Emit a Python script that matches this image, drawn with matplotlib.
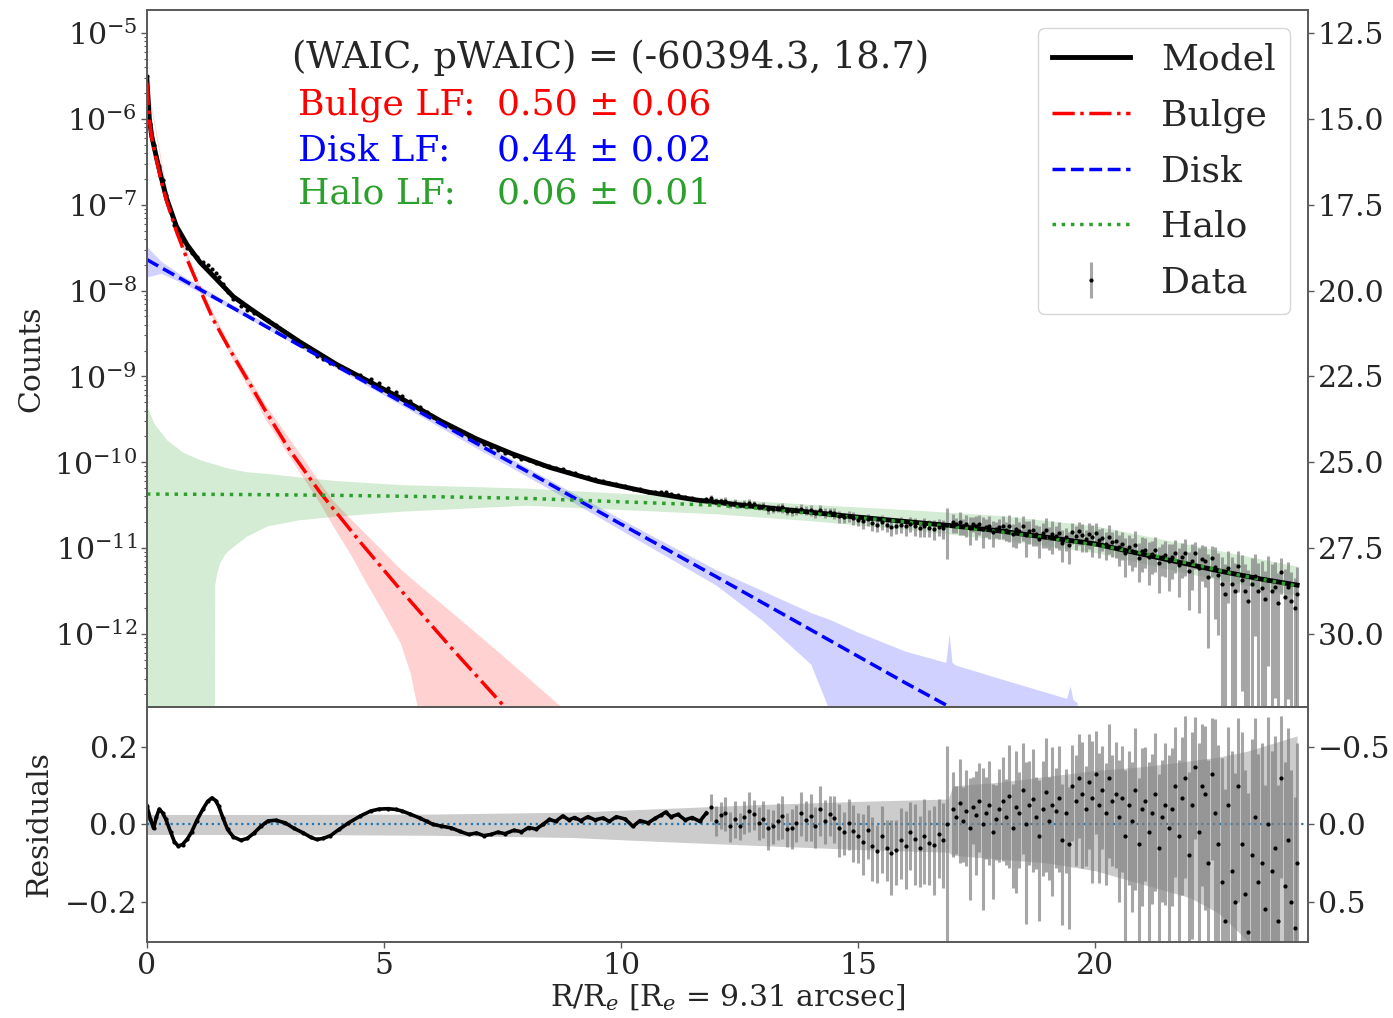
import numpy as np
import matplotlib
matplotlib.use('Agg')
import matplotlib.pyplot as plt
from matplotlib.ticker import FixedLocator, FuncFormatter, LogLocator, NullFormatter

plt.rcParams['font.family'] = ['DejaVu Serif']
plt.rcParams['mathtext.fontset'] = 'dejavuserif'

# ---------------- model and components (log10 counts) ----------------
model_R = [0, 0.05, 0.1, 0.2, 0.3, 0.41, 0.62, 0.85, 1.12, 1.47, 1.82, 2.2, 2.52, 3.23,
           4.0, 5.34, 6.2, 6.96, 7.7, 8.5, 9.5, 10.6, 11.6, 12.72, 13.8, 14.83, 16.0,
           17.0, 18.0, 19.05, 20.0, 21.16, 22.57, 23.5, 24.26]
model_log = [-5.55, -6.0, -6.2, -6.45, -6.68, -6.92, -7.25, -7.47, -7.67, -7.87, -8.07,
             -8.22, -8.34, -8.60, -8.86, -9.25, -9.52, -9.73, -9.90, -10.06, -10.22,
             -10.35, -10.44, -10.51, -10.57, -10.63, -10.69, -10.74, -10.80, -10.88,
             -10.95, -11.09, -11.26, -11.36, -11.43]

bulge_R = [0, 0.05, 0.1, 0.2, 0.3, 0.41, 0.62, 0.85, 1.12, 1.4, 1.75, 2.1, 2.5, 3.0,
           3.65, 4.5, 5.34, 6.4, 7.53, 8.0]
bulge_log = [-5.58, -6.02, -6.22, -6.48, -6.72, -6.95, -7.31, -7.64, -7.99, -8.34,
             -8.69, -9.02, -9.40, -9.85, -10.35, -10.93, -11.48, -12.15, -12.84, -13.1]
bulge_band_R = [0, 0.5, 1.12, 1.75, 2.5, 3.2, 3.65, 3.93, 4.3, 4.64, 5.0, 5.34, 5.55,
                5.72, 6.0, 6.5, 7.5, 8.76, 9.2]
bulge_band_hi = [-5.56, -7.08, -7.96, -8.64, -9.33, -9.88, -10.24, -10.45, -10.66,
                 -10.85, -11.05, -11.24, -11.34, -11.42, -11.55, -11.78, -12.25, -12.86, -13.05]
bulge_band_lo = [-5.60, -7.16, -8.03, -8.75, -9.50, -10.10, -10.48, -10.75, -11.08,
                 -11.42, -11.76, -12.10, -12.45, -12.90, -13.5, -14, -14, -14, -14]

disk_R = [0, 2, 4, 6, 8, 10, 12, 14, 16, 17.5]
disk_log = [-7.64, -8.26, -8.88, -9.49, -10.10, -10.72, -11.33, -11.95, -12.57, -13.02]
disk_band_R = [0, 0.3, 0.7, 1.5, 3, 5, 7, 9, 10.5, 12, 13, 14, 14.4, 15, 16, 16.85,
               16.92, 16.98, 17.05, 18, 19.4, 19.47, 19.53, 19.62]
disk_band_hi = [-7.49, -7.66, -7.81, -8.07, -8.53, -9.14, -9.75, -10.36, -10.81, -11.25,
                -11.50, -11.75, -11.83, -11.98, -12.20, -12.33, -12.0, -12.33, -12.36,
                -12.52, -12.75, -12.60, -12.76, -12.80]
disk_band_lo = [-7.84, -7.80, -7.90, -8.13, -8.59, -9.22, -9.85, -10.47, -10.95, -11.43,
                -11.85, -12.35, -12.90, -14, -14, -14, -14, -14, -14, -14, -14, -14, -14, -14]

halo_R = [0, 2, 4, 6, 8, 10, 12, 13, 14, 15, 16, 17, 18, 19, 20, 21, 22, 23, 24.26]
halo_log = [-10.37, -10.375, -10.385, -10.40, -10.42, -10.46, -10.50, -10.54, -10.59,
            -10.645, -10.695, -10.75, -10.81, -10.88, -10.96, -11.06, -11.18, -11.31, -11.44]
halo_band_R = [0, 0.15, 0.42, 0.75, 1.12, 1.42, 1.43, 1.48, 1.54, 1.65, 1.82, 2.1, 2.54,
               3.2, 3.93, 5.34, 8, 10, 12, 14, 16, 18, 20, 22, 24.26]
halo_band_hi = [-9.35, -9.55, -9.74, -9.88, -9.97, -10.02, -10.02, -10.03, -10.04, -10.06,
                -10.08, -10.11, -10.13, -10.17, -10.21, -10.26, -10.30, -10.36, -10.42,
                -10.49, -10.55, -10.62, -10.74, -10.96, -11.21]
halo_band_lo = [-14, -14, -14, -14, -14, -14, -11.42, -11.27, -11.16, -11.06, -10.98,
                -10.86, -10.74, -10.67, -10.63, -10.57, -10.50, -10.55, -10.60, -10.68,
                -10.78, -10.90, -11.05, -11.30, -11.55]

# ---------------- data: residuals log10(data/model) ----------------
inner_R = [0.00, 0.07, 0.14, 0.20, 0.26, 0.33, 0.40, 0.50, 0.58, 0.66, 0.75, 0.85, 0.94,
           1.05, 1.18, 1.28, 1.37, 1.45, 1.51, 1.60, 1.70, 1.82, 1.98, 2.12, 2.26, 2.40,
           2.55, 2.72, 2.92, 3.10, 3.30, 3.45, 3.58, 3.72, 3.87, 4.05, 4.25, 4.50, 4.72,
           4.90, 5.09, 5.25, 5.38, 5.55, 5.75, 5.90, 6.04, 6.20, 6.42, 6.60, 6.79, 6.95,
           7.10, 7.26, 7.40, 7.55, 7.74, 7.90, 8.05, 8.21, 8.35, 8.49, 8.62, 8.77, 8.90,
           9.02, 9.15, 9.30, 9.45, 9.62, 9.75, 9.90, 10.09, 10.25, 10.40, 10.57, 10.72,
           10.85, 10.94, 11.05, 11.20, 11.35, 11.50, 11.66, 11.80]
inner_res = [0.048, 0.015, -0.010, 0.020, 0.040, 0.030, 0.013, -0.020, -0.045, -0.056,
             -0.052, -0.038, -0.020, 0.010, 0.040, 0.060, 0.069, 0.062, 0.048, 0.018,
             -0.013, -0.032, -0.041, -0.036, -0.022, -0.005, 0.009, 0.011, 0.004, -0.010,
             -0.022, -0.033, -0.039, -0.036, -0.029, -0.013, 0.004, 0.022, 0.035, 0.040,
             0.041, 0.039, 0.035, 0.027, 0.017, 0.008, 0.000, -0.004, -0.009, -0.018,
             -0.026, -0.022, -0.029, -0.026, -0.020, -0.024, -0.015, -0.019, -0.008,
             -0.012, 0.000, 0.013, 0.008, 0.022, 0.012, 0.018, 0.010, 0.020, 0.012, 0.017,
             0.008, 0.020, 0.014, -0.005, 0.010, 0.004, 0.016, 0.025, 0.032, 0.020, 0.026,
             0.012, 0.018, 0.008, 0.030]

outer_R = [11.9, 12.0, 12.1, 12.2, 12.3, 12.4, 12.5, 12.6, 12.7, 12.8, 12.9, 13.0, 13.1,
           13.2, 13.3, 13.4, 13.5, 13.6, 13.7, 13.8, 13.9, 14.0, 14.1, 14.2, 14.3, 14.4,
           14.5, 14.6, 14.7, 14.8, 14.9, 15.0, 15.1, 15.2, 15.3, 15.4, 15.5, 15.6, 15.7,
           15.8, 15.9, 16.0, 16.1, 16.2, 16.3, 16.4, 16.5, 16.6, 16.7, 16.8, 16.88,
           17.00, 17.07, 17.14, 17.21, 17.28, 17.35, 17.42, 17.49, 17.56, 17.63, 17.70,
           17.77, 17.84, 17.91, 17.98,
           18.05, 18.12, 18.19, 18.26, 18.33, 18.40, 18.47, 18.54, 18.61, 18.68, 18.75,
           18.82, 18.89, 18.96, 19.03, 19.10, 19.17, 19.24, 19.31, 19.38,
           19.45, 19.52, 19.59, 19.66, 19.73, 19.80, 19.87, 19.94, 20.01, 20.08, 20.15,
           20.22, 20.29, 20.36, 20.43,
           20.50, 20.57, 20.64, 20.71, 20.78, 20.85, 20.92, 20.99, 21.06, 21.13, 21.20,
           21.27, 21.34, 21.41, 21.48, 21.55, 21.62, 21.69, 21.76, 21.83,
           21.90, 21.97, 22.04, 22.11, 22.18, 22.25, 22.32, 22.39, 22.46, 22.53, 22.60,
           22.67, 22.74, 22.81, 22.88, 22.95, 23.02, 23.09, 23.16, 23.23, 23.30, 23.37,
           23.44, 23.51, 23.58, 23.65, 23.72, 23.79, 23.86, 23.93, 24.00, 24.07, 24.14,
           24.21, 24.26]
outer_res = [0.045, 0.010, 0.025, 0.030, -0.005, 0.015, -0.004, 0.020, 0.035, 0.026, 0.005,
             0.015, -0.010, -0.004, 0.010, 0.022, -0.012, -0.009, 0.005, 0.030, 0.012,
             0.022, -0.005, 0.040, 0.010, 0.026, 0.018, -0.010, -0.020, 0.005, -0.017,
             -0.030, -0.045, -0.015, -0.056, -0.070, -0.030, -0.060, -0.075, -0.065,
             -0.040, -0.055, -0.020, -0.039, -0.060, -0.030, -0.048, -0.052, -0.025,
             -0.040, 0.000,
             0.04, 0.02, 0.055, 0.01, 0.035, -0.01, 0.045, 0.025, 0.06, 0.0, 0.03, 0.05,
             -0.02, 0.015, 0.04,
             0.06, 0.02, 0.075, -0.01, 0.045, 0.03, 0.09, 0.0, 0.05, 0.065, 0.02, -0.03,
             0.04, 0.085, 0.01, 0.05, 0.035, 0.07, -0.04, 0.03,
             -0.05, 0.10, 0.06, 0.12, 0.08, 0.04, 0.11, 0.07, 0.13, 0.05, 0.09, 0.03, 0.12,
             0.06, 0.08,
             0.02, 0.07, -0.03, 0.05, 0.01, 0.09, -0.05, 0.04, 0.06, -0.02, 0.03, 0.08,
             -0.06, 0.02, 0.05, -0.01, 0.04, 0.10, -0.03, 0.07,
             0.12, -0.08, 0.05, 0.15, -0.02, 0.10, 0.08, -0.10, 0.13, 0.03, -0.05,
             -0.15, -0.25, 0.05, -0.12, -0.20, 0.10, -0.05, -0.18, -0.28, -0.08, 0.02,
             -0.15, -0.10, -0.22, 0.00, -0.12, -0.06, -0.25, 0.12, -0.16, -0.04, -0.20,
             -0.27, -0.10]
outer_err = [0.08, 0.09, 0.08, 0.10, 0.09, 0.11, 0.08, 0.10, 0.12, 0.09, 0.10, 0.11, 0.12,
             0.10, 0.11, 0.13, 0.10, 0.12, 0.11, 0.13, 0.12, 0.14, 0.12, 0.15, 0.13, 0.12,
             0.14, 0.16, 0.13, 0.15, 0.17, 0.15, 0.18, 0.16, 0.19, 0.17, 0.20, 0.18, 0.22,
             0.19, 0.21, 0.23, 0.20, 0.24, 0.21, 0.25, 0.22, 0.26, 0.23, 0.25, 0.60,
             0.25, 0.20, 0.30, 0.22, 0.28, 0.35, 0.20, 0.30, 0.26, 0.40, 0.24, 0.30, 0.33,
             0.22, 0.27,
             0.30, 0.25, 0.35, 0.30, 0.40, 0.28, 0.32, 0.45, 0.30, 0.35, 0.27, 0.40, 0.33,
             0.38, 0.30, 0.42, 0.29, 0.36, 0.40, 0.30,
             0.40, 0.28, 0.32, 0.30, 0.36, 0.29, 0.33, 0.40, 0.30, 0.37, 0.30, 0.35, 0.38,
             0.32, 0.36,
             0.40, 0.36, 0.48, 0.38, 0.42, 0.45, 0.48, 0.44, 0.38, 0.52, 0.42, 0.44, 0.55,
             0.40, 0.45, 0.55, 0.44, 0.42, 0.58, 0.44,
             0.45, 0.65, 0.55, 0.35, 0.70, 0.45, 0.50, 0.85, 0.40, 0.75, 0.80,
             1.10, 1.20, 0.60, 1.05, 1.15, 0.50, 0.95, 1.10, 1.30, 1.00, 0.80, 1.15, 1.05,
             1.10, 0.90, 1.05, 0.95, 1.25, 0.45, 1.10, 0.95, 1.20, 1.20, 1.05]

# residual-panel model uncertainty band
band_R = [0, 3, 6, 9, 11, 13, 15, 16.9, 17.0, 18, 19, 20, 21, 22, 22.6, 23.2, 24.26]
band_hi = [0.026, 0.026, 0.027, 0.032, 0.042, 0.052, 0.060, 0.066, 0.10, 0.11, 0.125,
           0.14, 0.15, 0.165, 0.175, 0.19, 0.23]
band_lo = [-0.026, -0.026, -0.028, -0.034, -0.045, -0.055, -0.065, -0.072, -0.08, -0.09,
           -0.10, -0.12, -0.155, -0.19, -0.23, -0.30, -0.50]

stats_text = '(WAIC, pWAIC) = (-60394.3, 18.7)'
lf_labels = ['Bulge LF:', 'Disk LF:', 'Halo LF:']
lf_values = ['0.50 ± 0.06', '0.44 ± 0.02', '0.06 ± 0.01']
lf_colors = ['red', 'blue', 'C2']

# ---------------- figure ----------------
ink = '0.15'
spine_c = '0.35'
fig = plt.figure(figsize=(13.93, 10.18), dpi=100)
ax = fig.add_axes([0.1055, 0.3055, 0.8335, 0.6847])
axr = fig.add_axes([0.1055, 0.0747, 0.8335, 0.2308], sharex=ax)

P = lambda a: 10.0 ** np.asarray(a, dtype=float)
minus_fmt = FuncFormatter(lambda v, p: ('%.1f' % v).replace('-', '\u2212'))

ax.fill_between(bulge_band_R, P(bulge_band_lo), P(bulge_band_hi), color='red', alpha=0.18, lw=0)
ax.fill_between(disk_band_R, P(disk_band_lo), P(disk_band_hi), color='blue', alpha=0.18, lw=0)
ax.fill_between(halo_band_R, P(halo_band_lo), P(halo_band_hi), color='C2', alpha=0.2, lw=0)

# data in counts
inner_D = P(np.interp(inner_R, model_R, model_log) + np.asarray(inner_res))
outer_D = P(np.interp(outer_R, model_R, model_log) + np.asarray(outer_res))
oerr = np.asarray(outer_err)
low = outer_D * np.minimum(oerr, 0.99999)
up = outer_D * oerr
ax.plot(inner_R, inner_D, '.', color='k', ms=4)
data_h = ax.errorbar(outer_R, outer_D, yerr=[low, up], fmt='.', color='k', ms=4,
                     ecolor='gray', elinewidth=2.2, label='Data')
data_h[2][0].set_alpha(0.7)

h_model, = ax.plot(model_R, P(model_log), color='k', lw=3.5, label='Model')
h_bulge, = ax.plot(bulge_R, P(bulge_log), color='red', ls='-.', lw=2.5, label='Bulge')
h_disk, = ax.plot(disk_R, P(disk_log), color='blue', ls='--', lw=2.5, label='Disk')
h_halo, = ax.plot(halo_R, P(halo_log), color='C2', ls=':', lw=2.5, label='Halo')

ax.set_yscale('log')
ax.set_xlim(0, 24.49)
ylo, yhi = 10 ** -12.85, 10 ** -4.732
ax.set_ylim(ylo, yhi)
ax.yaxis.set_major_locator(FixedLocator([1e-12, 1e-11, 1e-10, 1e-9, 1e-8, 1e-7, 1e-6, 1e-5]))
ax.yaxis.set_minor_locator(LogLocator(base=10, subs=np.arange(2, 10), numticks=30))
ax.yaxis.set_minor_formatter(NullFormatter())
ax.set_ylabel('Counts', fontsize=21.5, color=ink, labelpad=6)
ax.tick_params(axis='x', labelbottom=False)

leg = ax.legend(handles=[h_model, h_bulge, h_disk, h_halo, data_h], loc='upper right',
                fontsize=26, handlelength=2.15, handletextpad=0.85, labelspacing=0.6,
                borderaxespad=0.5)
for t in leg.get_texts():
    t.set_color(ink)

ax.text(0.3997, 0.931, stats_text, transform=ax.transAxes, ha='center', va='center',
        fontsize=26.5, color=ink)
for i, (lab, val, c) in enumerate(zip(lf_labels, lf_values, lf_colors)):
    yy = [0.8637, 0.799, 0.7374][i]
    ax.text(0.130, yy, lab, transform=ax.transAxes, ha='left', va='center', fontsize=26, color=c)
    ax.text(0.3015, yy, val, transform=ax.transAxes, ha='left', va='center', fontsize=26, color=c)

axm = ax.twinx()
axm.set_ylim(-2.5 * np.log10(ylo), -2.5 * np.log10(yhi))
axm.yaxis.set_major_locator(FixedLocator([12.5, 15, 17.5, 20, 22.5, 25, 27.5, 30]))
axm.yaxis.set_major_formatter(minus_fmt)

# residual panel
axr.fill_between(band_R, band_lo, band_hi, color='0.8', lw=0)
axr.axhline(0, color='C0', ls=':', lw=1.6, zorder=1)
axr.plot(inner_R, inner_res, '-', color='k', lw=2.6)
axr.plot(inner_R, inner_res, '.', color='k', ms=4)
ores = np.asarray(outer_res)
r_lo = -np.log10(np.maximum(1 - oerr, 1e-3))
r_up = np.log10(1 + oerr)
eb = axr.errorbar(outer_R, ores, yerr=[r_lo, r_up], fmt='.', color='k', ms=4,
                  ecolor='gray', elinewidth=2.2)
eb[2][0].set_alpha(0.7)
axr.set_ylim(-0.305, 0.305)
axr.yaxis.set_major_locator(FixedLocator([-0.2, 0.0, 0.2]))
axr.yaxis.set_major_formatter(minus_fmt)
axr.set_xticks([0, 5, 10, 15, 20])
axr.set_ylabel('Residuals', fontsize=21.5, color=ink, labelpad=8)
axr.set_xlabel(r'R/R$_e$ [R$_e$ = 9.31 arcsec]', fontsize=21.5, color=ink, labelpad=2)

axm2 = axr.twinx()
axm2.set_ylim(-2.5 * -0.305, -2.5 * 0.305)
axm2.yaxis.set_major_locator(FixedLocator([-0.5, 0.0, 0.5]))
axm2.yaxis.set_major_formatter(minus_fmt)

for a in (ax, axr, axm, axm2):
    for s in a.spines.values():
        s.set_color(spine_c)
        s.set_linewidth(1.2)
    a.tick_params(which='major', direction='out', length=4, width=1, color=spine_c,
                  labelsize=21.5, labelcolor=ink, pad=3)
    a.tick_params(which='minor', direction='out', length=2, width=0.8, color=spine_c)

fig.savefig('out.png', dpi=100)
